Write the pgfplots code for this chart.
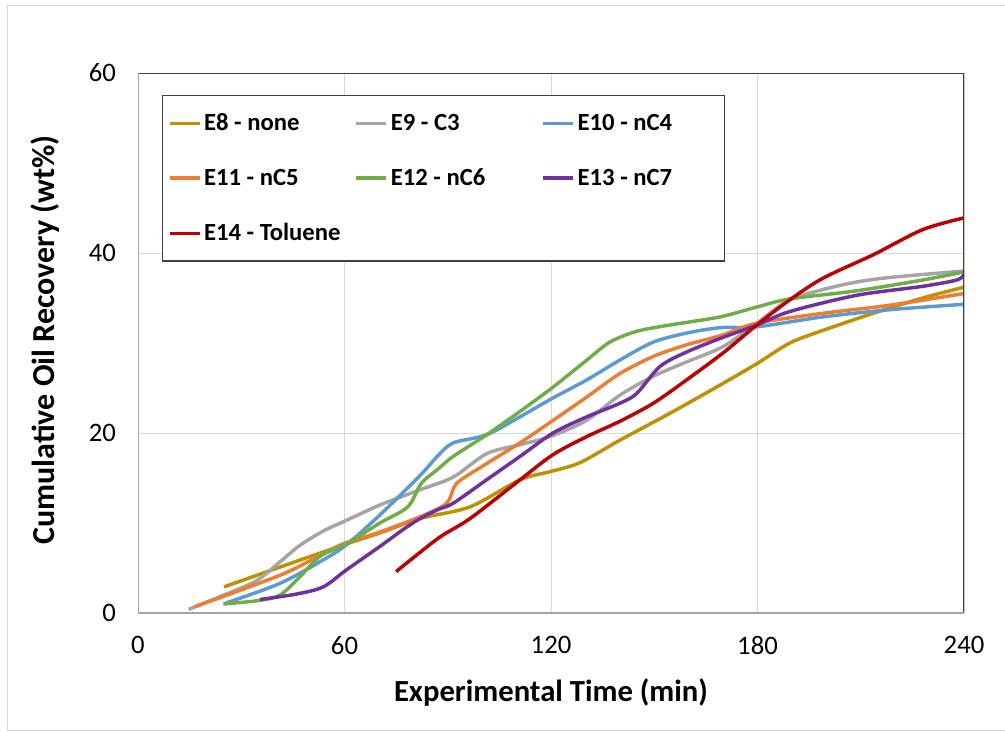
\documentclass[border=0pt]{standalone}
\usepackage{fontspec}
\setmainfont{Carlito}
\usepackage{pgfplots}
\pgfplotsset{compat=1.18}
\definecolor{cEeight}{HTML}{BF9000}
\definecolor{cEnine}{HTML}{A5A5A5}
\definecolor{cEten}{HTML}{5B9BD5}
\definecolor{cEeleven}{HTML}{ED7D31}
\definecolor{cEtwelve}{HTML}{70AD47}
\definecolor{cEthirteen}{HTML}{7030A0}
\definecolor{cEfourteen}{HTML}{C00000}
\definecolor{gridc}{HTML}{D9D9D9}
\definecolor{spinegray}{HTML}{A6A6A6}
\definecolor{spinedark}{HTML}{404040}
\begin{document}
\begin{tikzpicture}
\useasboundingbox (0pt,0pt) rectangle (753.75pt,548.25pt);
\draw[gridc, line width=0.75pt] (5.25pt,0.75pt) rectangle (760pt,543.75pt);
\begin{axis}[
  at={(103.5pt,88.5pt)}, anchor=south west,
  width=619.5pt, height=405pt, scale only axis,
  xmin=0, xmax=240, ymin=0, ymax=60,
  xtick={0,60,120,180,240}, ytick={0,20,40,60},
  grid=major, major grid style={draw=gridc, line width=0.75pt},
  major tick length=0pt,
  axis line style={draw=none},
  tick label style={font=\fontsize{20}{24}\selectfont},
  /pgf/number format/assume math mode=true,
  xticklabel style={yshift=-14pt},
  yticklabel style={xshift=-13pt},
  xlabel={Experimental Time (min)},
  ylabel={Cumulative Oil Recovery (wt\%)},
  xlabel style={at={(axis description cs:0.5,-0.148)}, anchor=center, font=\bfseries\fontsize{23}{28}\selectfont},
  ylabel style={at={(axis description cs:-0.1126,0.506)}, anchor=center, font=\bfseries\fontsize{24}{28}\selectfont},
  legend columns=3,
  legend cell align=left,
  legend image code/.code={\draw[#1, line width=2.6pt] (0pt,0pt) -- (22.5pt,0pt);},
  legend style={at={(axis description cs:0.029,0.959)}, anchor=north west,
    draw=spinedark, line width=0.9pt, fill=white,
    font=\bfseries\fontsize{18.5}{22}\selectfont,
    inner xsep=4pt, inner ysep=11.5pt, row sep=23pt},
  every axis plot/.append style={line width=2.6pt, smooth, tension=0.5},
]
\addplot[cEeight] coordinates {(25,2.9) (42,5.2) (60,7.6) (70.3,8.9) (82,10.5) (96.5,11.8) (111,14.8) (119.7,15.7) (128.4,16.7) (140,19.2) (154.6,22.2) (169,25.3) (179.8,27.7) (189.4,30) (199,31.4) (213.6,33.3) (228,35) (240,36.2)};
\addlegendentry{\makebox[111pt][l]{E8 - none}}
\addplot[cEnine] coordinates {(14.7,0.4) (25,2.0) (34.5,3.6) (41.3,5.7) (47,7.5) (53.8,9.1) (60.6,10.3) (70.3,12) (82,13.7) (91.6,15.1) (101.3,17.7) (111,18.7) (119.7,19.6) (130.3,21.4) (140,24.2) (149.7,26.3) (159.4,27.9) (170,29.6) (179.8,32.2) (189.4,34.8) (204,36.4) (216.5,37.2) (240,38)};
\addlegendentry{\makebox[111pt][l]{E9 - C3}}
\addplot[cEten] coordinates {(25.5,1.1) (41.3,3.3) (53.8,5.9) (60.6,7.6) (70.3,10.9) (82,15.3) (87.2,17.5) (91.6,18.9) (101.3,19.8) (111,21.8) (120.6,23.9) (130.4,25.9) (140,28.1) (149.7,30.1) (159.4,31.1) (169.1,31.7) (179.8,31.8) (199,32.9) (218.5,33.7) (240,34.3)};
\addlegendentry{\makebox[104pt][l]{E10 - nC4}}
\addplot[cEeleven] coordinates {(16.5,0.7) (41.3,4.2) (52.9,6.4) (59.7,7.7) (70.3,9) (82,10.7) (89.7,12.2) (92.6,14.4) (101.3,16.6) (111,18.9) (120.6,21.4) (130.4,24) (140,26.6) (149.7,28.5) (159.4,29.8) (169.1,30.8) (179.8,32.2) (199,33.3) (218.5,34.2) (240,35.5)};
\addlegendentry{\makebox[111pt][l]{E11 - nC5}}
\addplot[cEtwelve] coordinates {(24.8,1) (35.4,1.4) (41.3,2) (47,4) (52.9,6.3) (60.6,7.7) (70.3,10) (78.4,11.8) (82.3,14.4) (87.2,16) (91.6,17.4) (101.3,19.8) (111,22.4) (120.6,25.1) (130.4,28.1) (137.1,30.1) (144.9,31.3) (154.6,32) (169.1,32.9) (179.8,34) (189.4,34.9) (208.8,35.8) (228,37) (240,37.9)};
\addlegendentry{\makebox[111pt][l]{E12 - nC6}}
\addplot[cEthirteen] coordinates {(35.4,1.5) (46,2.1) (53.8,2.9) (60.6,4.8) (70.3,7.4) (77.5,9.4) (82,10.5) (87.2,11.5) (91.6,12.2) (101.3,14.8) (111,17.4) (120.6,20) (130.4,21.8) (140,23.3) (144.9,24.4) (151.7,27.4) (159.4,29) (169.1,30.5) (179.8,32) (189.4,33.5) (208.8,35.3) (228,36.3) (237.9,37) (240,37.6)};
\addlegendentry{\makebox[104pt][l]{E13 - nC7}}
\addplot[cEfourteen] coordinates {(75,4.6) (87.2,8.3) (96.5,10.5) (111,14.8) (120.6,17.6) (130.4,19.6) (140,21.3) (149.7,23.3) (159.4,25.9) (170,28.9) (179.8,32) (189.4,34.8) (199,37.2) (213.6,39.8) (228,42.6) (240,43.9)};
\addlegendentry{\makebox[111pt][l]{E14 - Toluene}}
\draw[spinedark, line width=1pt] (rel axis cs:0,1) -- (rel axis cs:1,1) -- (rel axis cs:1,0);
\draw[spinegray, line width=1.1pt] (rel axis cs:0,1) -- (rel axis cs:0,0) -- (rel axis cs:1,0);
\end{axis}
\end{tikzpicture}
\end{document}
